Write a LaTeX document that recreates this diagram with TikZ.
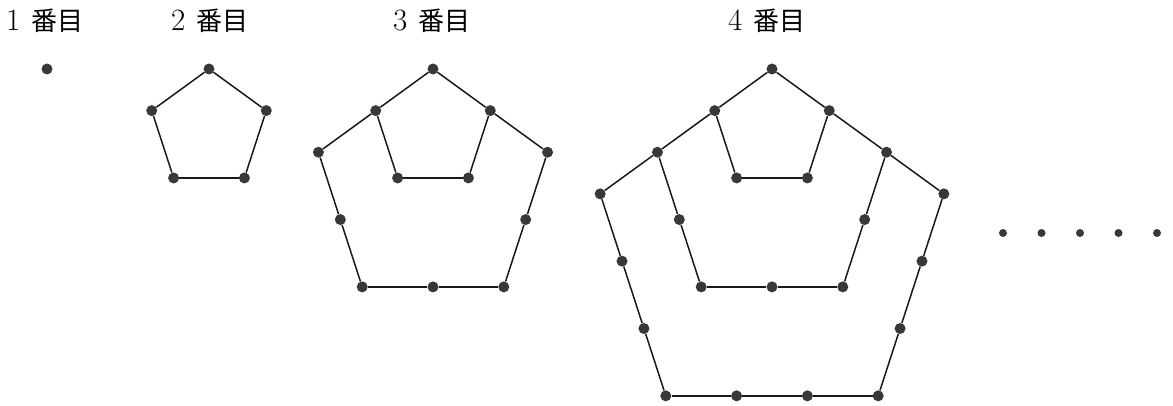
\documentclass[tikz,border=0pt]{standalone}
\usepackage{fontspec}
\newfontfamily\jpfont{Noto Sans CJK JP}
\usetikzlibrary{calc}

\tikzset{
  bead/.style={circle, fill=black!78, inner sep=0pt, minimum size=11pt},
  rim/.style={draw=black!90, line width=1.5pt},
  caption/.style={font=\fontsize{26}{30}\selectfont, inner sep=0pt}
}
\newcommand\edgelen{70.8pt}
\newcommand\capnum[1]{{\fontsize{31}{31}\selectfont #1}\hspace{0.45em}}

\begin{document}
\begin{tikzpicture}[x=1pt, y=1pt]
  \useasboundingbox (0,0) rectangle (1173,406);
  % 1st figure: a single dot
  \node[bead] (p1-0-0) at (47,337) {};
  \node[caption] (cap1) at (45,385) {\capnum{1}{\jpfont 番目}};
  % 2nd to 4th figures: nested pentagons sharing the top dot
  \foreach \n/\cx/\lx in {2/209/210, 3/433/432, 4/772/767}{
    \pgfmathtruncatemacro\last{\n-1}
    \node[bead] (p\n-0-0) at (\cx,337) {};
    \node[caption] (cap\n) at (\lx,385) {\capnum{\n}{\jpfont 番目}};
    \foreach \j in {1,...,\last}{
      \pgfmathtruncatemacro\prev{\j-1}
      \pgfmathtruncatemacro\lastk{3*\j}
      \pgfmathtruncatemacro\prevk{3*\prev}
      \foreach \k in {0,...,\lastk}{
        \pgfmathsetmacro\sd{min(\k,\j)}
        \pgfmathsetmacro\sb{min(max(\k-\j,0),\j)}
        \pgfmathsetmacro\su{max(\k-2*\j,0)}
        \node[bead] (p\n-\j-\k) at ($(p\n-0-0)+\j*(216:\edgelen)+\sd*(288:\edgelen)+\sb*(0:\edgelen)+\su*(72:\edgelen)$) {};
      }
      \foreach \k [count=\q from 0] in {1,...,\lastk}
        \draw[rim] (p\n-\j-\q) -- (p\n-\j-\k);
      \draw[rim] (p\n-\prev-0) -- (p\n-\j-0);
      \draw[rim] (p\n-\prev-\prevk) -- (p\n-\j-\lastk);
    }
  }
  % dots for "and so on"
  \foreach \x [count=\q] in {1003,1041.5,1080,1118.5,1157}
    \node[bead, minimum size=8pt] (etc\q) at (\x,173) {};
\end{tikzpicture}
\end{document}
